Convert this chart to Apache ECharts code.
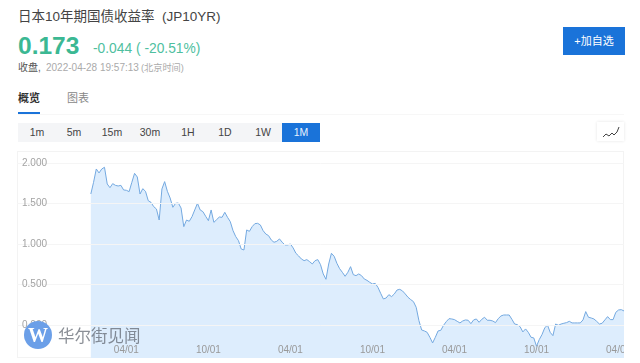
<!DOCTYPE html>
<html><head><meta charset="utf-8">
<script src="https://cdn.jsdelivr.net/npm/echarts@6/dist/echarts.min.js"></script>
<style>
html,body{margin:0;padding:0;background:#fff;overflow:hidden}
body{width:640px;height:363px;position:relative;font-family:"Liberation Sans","Noto Sans CJK SC",sans-serif}
.t{position:absolute;white-space:nowrap;line-height:1}
#bar{position:absolute;left:18px;top:123px;width:302px;height:19px;background:#f4f5f7}
.b{position:absolute;top:123px;width:38px;height:19px;line-height:19px;text-align:center;font-size:10.5px;color:#444}
#frame{position:absolute;left:17px;top:151px;width:607px;height:207px;border:1px solid #f3f3f3;box-sizing:border-box}
#chart{position:absolute;left:17px;top:151px;width:607px;height:207px}
</style></head>
<body>
<div class="t" style="left:18px;top:10px;font-size:13.5px;color:#444">日本10年期国债收益率&nbsp;&nbsp;(JP10YR)</div>
<div class="t" style="left:18px;top:34px;font-size:24.5px;font-weight:bold;color:#3bb893">0.173</div>
<div class="t" style="left:93px;top:42px;font-size:13.8px;color:#4fbf9f">-0.044 ( -20.51%)</div>
<div class="t" style="left:18px;top:63px;font-size:10px;color:#555">收盘,</div>
<div class="t" style="left:46px;top:63px;font-size:10px;color:#aaa">2022-04-28 19:57:13</div>
<div class="t" style="left:141px;top:63px;font-size:9.2px;color:#aaa;margin-top:1px">(北京时间)</div>
<div class="t" style="left:18px;top:93px;font-size:11px;font-weight:bold;color:#333">概览</div>
<div class="t" style="left:67px;top:93px;font-size:11px;color:#888">图表</div>
<div style="position:absolute;left:18px;top:112px;width:22px;height:2px;background:#1a73d9"></div>
<div style="position:absolute;left:18px;top:114px;width:606px;height:1px;background:#f7f7f7"></div>
<div style="position:absolute;left:563px;top:27px;width:62px;height:28px;line-height:28px;text-align:center;background:#1a73d9;color:#fff;font-size:11px">+加自选</div>
<div id="bar"></div>
<div class="b" style="left:18px">1m</div><div class="b" style="left:55px">5m</div><div class="b" style="left:93px">15m</div><div class="b" style="left:131px">30m</div><div class="b" style="left:169px">1H</div><div class="b" style="left:206px">1D</div><div class="b" style="left:244px">1W</div>
<div class="b" style="left:282px;background:#1a73d9;color:#e8f2ff">1M</div>
<div style="position:absolute;left:597px;top:122px;width:27px;height:19px;background:#fff;box-shadow:0 0 3px #e4e4e4">
<svg width="27" height="19"><polyline points="6,15 9,12 12,14 15,11 17,13 20,10 22,5" fill="none" stroke="#444" stroke-width="1"/></svg></div>
<div id="frame"></div>
<div id="chart"></div>
<div style="position:absolute;left:24px;top:321px;width:28px;height:28px;border-radius:50%;background:#6b9fe8;color:#fff;text-align:center;font:bold 20px/28px 'Liberation Serif',serif">W</div>
<div class="t" style="left:58px;top:327px;font-size:16.5px;color:rgba(90,95,105,.7);font-family:'Noto Sans CJK SC',sans-serif">华尔街见闻</div>
<script>
const leadingBlank = 27;
const tickEvery = 30;
const firstTick = 40;
const tickLabels = ['04/01','10/01','04/01','10/01','04/01','10/01','04/01'];
const yTicks = [0, 0.5, 1, 1.5, 2];
const yields = [
1.617,1.761,1.926,1.877,1.926,1.947,1.741,1.695,1.745,1.724,1.716,1.724,1.667,1.663,1.646,1.761,1.872,1.827,1.617,1.683,
1.650,1.535,1.514,1.461,1.432,1.296,1.679,1.770,1.650,1.568,1.453,1.502,1.506,1.444,1.214,1.296,1.280,1.337,1.420,1.502,
1.420,1.399,1.342,1.288,1.420,1.267,1.300,1.333,
1.329,1.391,1.329,1.276,1.165,1.091,1.041,0.938,0.926,1.173,1.156,1.214,1.251,1.255,1.235,1.165,1.123,1.103,1.049,1.021,
1.033,1.062,1.021,0.988,0.988,1.000,0.951,0.885,0.852,0.815,0.794,0.807,0.782,0.753,0.794,0.807,0.745,0.630,0.564,0.753,
0.885,0.848,0.761,0.695,0.650,0.601,0.650,0.720,0.621,0.609,0.630,0.609,0.568,0.551,0.527,0.506,0.514,0.465,0.391,0.321,
0.333,0.374,0.350,0.383,0.432,0.440,0.420,0.383,0.342,0.313,
0.288,0.218,0.053,-0.062,-0.074,-0.091,-0.152,-0.222,-0.152,-0.074,-0.066,-0.004,0.041,0.078,0.074,0.066,0.045,0.025,0.049,0.062,
0.058,0.016,0.062,0.074,0.033,0.070,0.095,0.058,0.058,0.049,0.029,0.078,0.111,0.123,0.123,0.123,0.070,0.012,0.004,-0.021,
-0.086,-0.049,-0.091,-0.152,-0.160,-0.263,-0.181,-0.119,-0.037,0.000,-0.091,-0.132,0.012,-0.004,0.012,0.021,0.029,0.045,0.025,0.025,
0.025,0.025,0.062,0.165,0.095,0.086,0.074,0.045,0.012,0.021,0.062,0.103,0.066,0.066,0.156,0.185,0.189,0.173
];
const seriesData = new Array(leadingBlank).fill(null).concat(yields);
const categories = seriesData.map((_, i) => {
  const k = (i - firstTick) / tickEvery;
  return Number.isInteger(k) && tickLabels[k] ? tickLabels[k] : '';
});
const chart = echarts.init(document.getElementById('chart'), null, {renderer:'canvas'});
chart.setOption({
  animation:false,
  grid:{left:0,right:0,top:0,bottom:0,outerBoundsMode:'none'},
  xAxis:{type:'category',data:categories,boundaryGap:false,z:5,
    axisLine:{show:false},axisTick:{show:false},splitLine:{show:false},
    axisLabel:{inside:true,interval:0,margin:3,fontSize:10,color:'#999',fontFamily:'Liberation Sans',hideOverlap:false}},
  yAxis:{type:'value',min:-0.408,max:2.148,z:5,
    axisLine:{show:false},
    axisTick:{show:false,customValues:yTicks},
    splitLine:{show:true,lineStyle:{color:'#f5f5f5',width:1}},
    axisLabel:{inside:true,customValues:yTicks,margin:5,fontSize:10,color:'#a3a3a3',fontFamily:'Liberation Sans',
      formatter:v=>v.toFixed(3)}},
  series:[{type:'line',data:seriesData,symbol:'none',smooth:false,
    lineStyle:{color:'#74a9e0',width:1},
    areaStyle:{color:'#ddedfd',opacity:1,origin:'start'},z:2}]
});
</script>
</body></html>
